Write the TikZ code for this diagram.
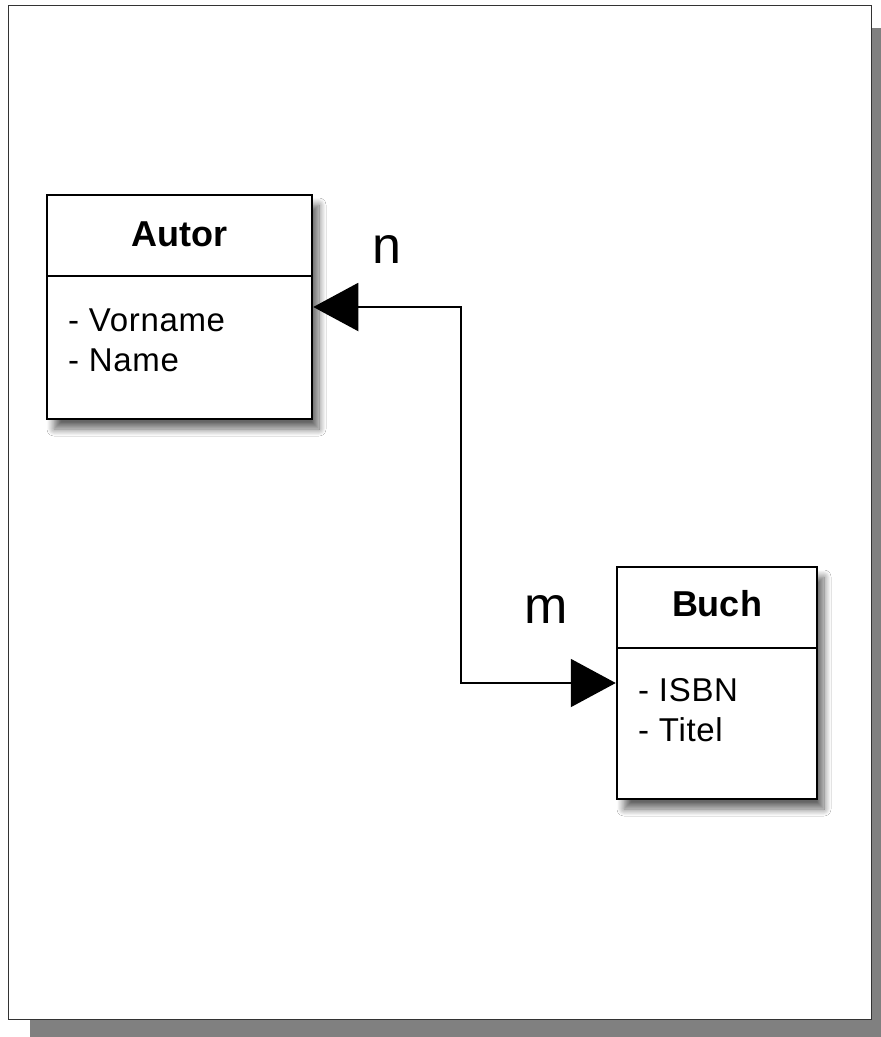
\documentclass[tikz,border=0pt]{standalone}
\usepackage{fontspec}
\setmainfont{Liberation Sans}
\newfontfamily\attrfont[LetterSpace=2]{Liberation Sans}
\usetikzlibrary{arrows.meta,shadows.blur}

\tikzset{
  klasse/.style={draw, line width=2.5pt, fill=white, inner sep=0pt,
    blur shadow={shadow xshift=7pt, shadow yshift=-10pt, shadow blur steps=10,
      shadow blur radius=7pt, shadow opacity=60}},
  titel/.style={font=\bfseries\fontsize{36}{40}\selectfont, inner sep=0pt},
  attribut/.style={anchor=west, font=\attrfont\fontsize{33}{38}\selectfont, inner sep=0pt},
  kardinal/.style={font=\fontsize{52}{56}\selectfont, inner sep=0pt},
  assoz/.style={line width=2pt, {Triangle[length=45pt,width=48pt]}-{Triangle[length=45pt,width=48pt]}}
}

\begin{document}
\begin{tikzpicture}[x=1pt,y=-1pt]
    \useasboundingbox (0,0) rectangle (881,1037);
    % Blatt mit Schatten
    \fill[gray] (30,28) rectangle (893,1042);
    \draw[draw=black!80, fill=white, line width=1pt] (8,5) rectangle (871,1019);

    % Klassen
    \node[klasse, minimum width=265pt, minimum height=224pt] (autor) at (179.5,307) {};
    \node[klasse, minimum width=200pt, minimum height=232pt] (buch) at (717,683) {};
    \draw[line width=2.5pt] (47,276) -- (312,276);
    \draw[line width=2.5pt] (617,648) -- (817,648);

    \node[titel] (autortitel) at (179.5,234) {Autor};
    \node[attribut] (vorname) at (68,320) {- Vorname};
    \node[attribut] (name) at (68,360) {- Name};

    \node[titel] (buchtitel) at (717,604) {Buch};
    \node[attribut] (isbn) at (638,690) {- ISBN};
    \node[attribut] (titelattr) at (638,730) {- Titel};

    % Beziehung n:m
    \coordinate (knick) at (461,495);
    \draw[assoz] (autor.east) -| (knick) |- (buch.west);

    \node[kardinal] (n) at (387,250) {n};
    \node[kardinal] (m) at (546,610) {m};

\end{tikzpicture}
\end{document}
